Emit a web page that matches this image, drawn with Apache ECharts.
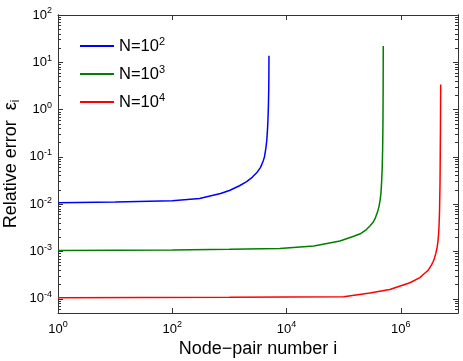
<!DOCTYPE html>
<html>
<head>
<meta charset="utf-8">
<script src="https://cdn.jsdelivr.net/npm/echarts@6/dist/echarts.min.js"></script>
<style>
  html, body { margin: 0; padding: 0; background: #fff; }
  #main { width: 463px; height: 361px; }
</style>
</head>
<body>
<div id="main"></div>
<script>
// values
var seriesNames = ["N=10^2", "N=10^3", "N=10^4"];
var colors = ["#0000ff", "#007f00", "#ff0000"];

var blueX = [1, 10, 100, 300, 700, 1000, 1500, 2000, 2500, 3000, 3500, 3900, 4100, 4300, 4500, 4650, 4750, 4820, 4870, 4900, 4920];
var blueY = [0.0107, 0.0111, 0.0118, 0.0132, 0.0168, 0.0195, 0.0245, 0.030, 0.037, 0.046, 0.060, 0.082, 0.10, 0.14, 0.22, 0.40, 0.75, 1.3, 2.6, 5.0, 13.7];

var greenX = [1, 100, 1000, 7600, 30000, 86000, 150000, 200000, 250000, 290000, 330000, 360000, 390000, 415000, 435000, 450000, 462000, 472000, 480000, 486000, 490000, 492000];
var greenY = [0.00105, 0.00108, 0.00111, 0.00115, 0.00131, 0.00167, 0.0021, 0.0024, 0.0029, 0.0035, 0.0042, 0.0052, 0.0068, 0.0090, 0.0125, 0.018, 0.032, 0.06, 0.15, 0.5, 3, 22];

var redX = [1, 1000, 100000, 287000, 640000, 1440000, 2150000, 2500000, 3000000, 3440000, 3700000, 3900000, 4100000, 4300000, 4450000, 4570000, 4660000, 4750000, 4850000, 4930000, 4980000];
var redY = [0.000105, 0.000107, 0.00011, 0.000133, 0.000157, 0.000218, 0.00028, 0.00033, 0.00040, 0.00052, 0.00062, 0.00074, 0.00092, 0.0012, 0.0016, 0.0023, 0.0035, 0.007, 0.03, 0.4, 3.4];

// tick positions
var xTicks = [1, 1e2, 1e4, 1e6];
var yTicks = [1e-4, 1e-3, 1e-2, 1e-1, 1, 10, 100];
var yMinorTicks = [];
for (var k = -5; k < 2; k++) {
  for (var m = 2; m <= 9; m++) {
    var v = m * Math.pow(10, k);
    if (v > 5e-5 && v < 100) yMinorTicks.push(v);
  }
}

var font = "Liberation Sans, Arial, Helvetica, sans-serif";

function pairs(xs, ys) {
  return xs.map(function (x, i) { return [x, ys[i]]; });
}

function powLabel(value) {
  var l = Math.log10(value);
  var e = Math.round(l);
  if (Math.abs(l - e) > 1e-6) return "";
  return "{b|10}{e|" + (e < 0 ? "-" + (-e) : e) + "}";
}

var powRich = {
  b: { fontSize: 13, fontFamily: font, color: "#000", lineHeight: 16 },
  e: { fontSize: 9, fontFamily: font, color: "#000", lineHeight: 16, padding: [0, 0, 8, 0] }
};

var chart = echarts.init(document.getElementById("main"));
var allData = [pairs(blueX, blueY), pairs(greenX, greenY), pairs(redX, redY)];

var axisLineStyle = { show: true, lineStyle: { color: "#333", width: 1 } };

function yAx(pos, values, len, labels) {
  return {
    type: "log",
    logBase: 10,
    min: 5e-5,
    max: 100,
    position: pos,
    axisLine: axisLineStyle,
    axisTick: { show: true, inside: true, length: len, customValues: values, lineStyle: { color: "#333" } },
    axisLabel: labels ? { margin: 6, customValues: yTicks, formatter: powLabel, rich: powRich } : { show: false },
    splitLine: { show: false }
  };
}

var yAxes = [yAx("left", yTicks, 5, true), yAx("right", yTicks, 5, false), yAx("left", yMinorTicks, 3, false), yAx("right", yMinorTicks, 3, false)];
yAxes[0].name = "{a|Relative error  \u03b5}{s|i}";
yAxes[0].nameLocation = "middle";
yAxes[0].nameGap = 37;
yAxes[0].nameMoveOverlap = false;
yAxes[0].nameTextStyle = {
  rich: {
    a: { fontSize: 18, fontFamily: font, color: "#000", lineHeight: 20 },
    s: { fontSize: 12, fontFamily: font, color: "#000", lineHeight: 20, padding: [9, 0, 0, 0] }
  }
};

var option = {
  animation: false,
  grid: { left: 58, right: 5, top: 15, bottom: 48, containLabel: false, outerBoundsMode: "none" },
  legend: {
    left: 75,
    top: 31,
    orient: "vertical",
    itemWidth: 34,
    itemHeight: 2,
    itemGap: 8,
    icon: "rect",
    data: seriesNames,
    formatter: function (name) {
      var p = name.split("^");
      return "{b|" + p[0] + "}{e|" + p[1] + "}";
    },
    textStyle: {
      rich: {
        b: { fontSize: 16.5, fontFamily: font, color: "#000", lineHeight: 18 },
        e: { fontSize: 11, fontFamily: font, color: "#000", lineHeight: 18, padding: [0, 0, 9, 0] }
      }
    }
  },
  xAxis: [
    {
      type: "log",
      logBase: 10,
      min: 1,
      max: 1e7,
      name: "Node\u2212pair number i",
      nameLocation: "middle",
      nameGap: 27,
      nameMoveOverlap: false,
      nameTextStyle: { fontSize: 18, fontFamily: font, color: "#000" },
      axisLine: axisLineStyle,
      axisTick: { show: true, inside: true, length: 5, customValues: xTicks, lineStyle: { color: "#333" } },
      axisLabel: { margin: 8, customValues: xTicks, formatter: powLabel, rich: powRich },
      splitLine: { show: false }
    },
    {
      type: "log",
      logBase: 10,
      min: 1,
      max: 1e7,
      position: "top",
      axisLine: axisLineStyle,
      axisTick: { show: true, inside: true, length: 5, customValues: xTicks, lineStyle: { color: "#333" } },
      axisLabel: { show: false },
      splitLine: { show: false }
    }
  ],
  yAxis: yAxes,
  series: seriesNames.map(function (name, i) {
    return {
      name: name,
      type: "line",
      xAxisIndex: 0,
      yAxisIndex: 0,
      symbol: "none",
      smooth: false,
      color: colors[i],
      lineStyle: { width: 1.5, color: colors[i] },
      data: allData[i]
    };
  })
};

chart.setOption(option);
</script>
</body>
</html>
